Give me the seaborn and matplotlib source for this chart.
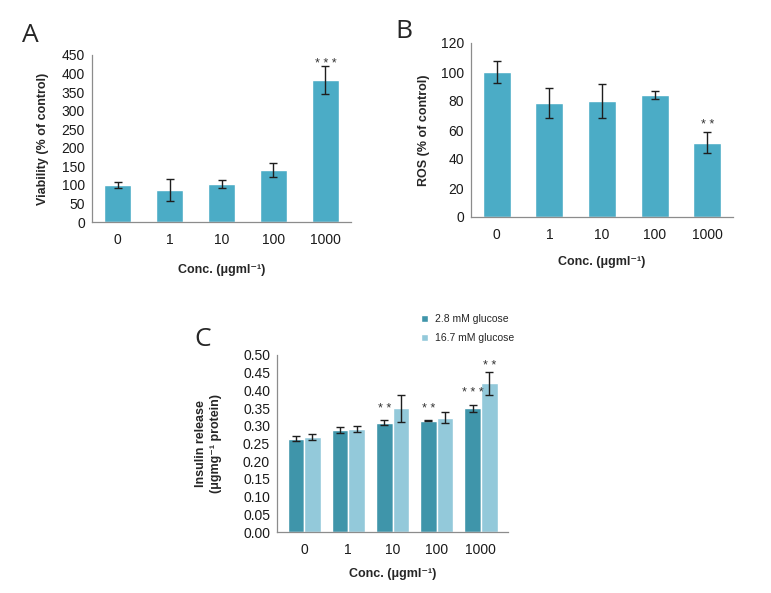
import numpy as np
import pandas as pd
import seaborn as sns
import matplotlib
matplotlib.use('Agg')
import matplotlib.pyplot as plt

sns.set_style("white")
plt.rcParams['font.family'] = ['Liberation Sans', 'DejaVu Sans']

# data
conc = ['0', '1', '10', '100', '1000']
viability = [99, 86, 102, 140, 382]
viability_err = [8, 29, 11, 20, 38]
viability_sig = ['', '', '', '', '***']

ros = [100, 78.7, 79.7, 83.9, 51.2]
ros_err = [7.7, 10.6, 11.7, 2.7, 7.4]
ros_sig = ['', '', '', '', '**']

glucose = ['2.8 mM glucose', '16.7 mM glucose']
insulin_low = [0.264, 0.288, 0.308, 0.314, 0.349]
insulin_low_err = [0.008, 0.009, 0.007, 0.001, 0.010]
insulin_low_sig = ['', '', '**', '**', '***']
insulin_high = [0.269, 0.291, 0.349, 0.323, 0.420]
insulin_high_err = [0.008, 0.009, 0.037, 0.016, 0.032]
insulin_high_sig = ['', '', '', '', '**']

bar_color = '#4BACC6'
c_colors = ['#3F95AA', '#93C9DA']
spine_color = '#8C8C8C'
err_color = '#1E1E1E'
xlabel = 'Conc. (\u03bcgml\u207b\u00b9)'

fig = plt.figure(figsize=(7.71, 5.93), dpi=100)
W, H = 771, 593


def add_axes(l, r, t, b):
    return fig.add_axes([l / W, 1 - b / H, (r - l) / W, (b - t) / H])


def style_axes(ax, ymax, step, fmt=None):
    ax.set_ylim(0, ymax)
    ax.set_yticks(np.arange(0, ymax + step / 2, step))
    if fmt:
        ax.yaxis.set_major_formatter(matplotlib.ticker.FormatStrFormatter(fmt))
    for s in ['top', 'right']:
        ax.spines[s].set_visible(False)
    for s in ['left', 'bottom']:
        ax.spines[s].set_color(spine_color)
        ax.spines[s].set_linewidth(0.9)
    ax.tick_params(axis='y', length=3, width=0.8, color=spine_color,
                   labelsize=10, labelcolor='#1a1a1a', pad=2)
    ax.tick_params(axis='x', length=0, labelsize=10, labelcolor='#1a1a1a', pad=8)


def add_errors(ax, container, vals, errs, sigs, off):
    xs = [p.get_x() + p.get_width() / 2 for p in container.patches]
    ax.errorbar(xs, vals, yerr=errs, fmt='none', ecolor=err_color,
                elinewidth=1.0, capsize=3, capthick=1.0)
    for x, v, e, s in zip(xs, vals, errs, sigs):
        if s:
            ax.annotate(' '.join(s), (x, v + e), xytext=(0, off),
                        textcoords='offset points', ha='center', va='bottom',
                        fontsize=9, color='#333333')


# panel A
axA = add_axes(92, 351, 55, 222)
dfA = pd.DataFrame({'conc': conc, 'val': viability})
sns.barplot(data=dfA, x='conc', y='val', color=bar_color, saturation=1,
            width=0.53, ax=axA)
add_errors(axA, axA.containers[0], viability, viability_err, viability_sig, -3)
style_axes(axA, 450, 50)
axA.set_ylabel('Viability (% of control)', fontsize=9, fontweight='bold', labelpad=9)
axA.set_xlabel(xlabel, fontsize=9, fontweight='bold', labelpad=12)

# panel B
axB = add_axes(471, 733, 43, 217)
dfB = pd.DataFrame({'conc': conc, 'val': ros})
sns.barplot(data=dfB, x='conc', y='val', color=bar_color, saturation=1,
            width=0.53, ax=axB)
add_errors(axB, axB.containers[0], ros, ros_err, ros_sig, 1)
style_axes(axB, 120, 20)
axB.set_ylabel('ROS (% of control)', fontsize=9, fontweight='bold', labelpad=8)
axB.set_xlabel(xlabel, fontsize=9, fontweight='bold', labelpad=10)

# panel C
axC = add_axes(277, 508, 355, 532)
dfC = pd.DataFrame({
    'conc': conc * 2,
    'glucose': [glucose[0]] * 5 + [glucose[1]] * 5,
    'val': insulin_low + insulin_high,
})
sns.barplot(data=dfC, x='conc', y='val', hue='glucose', palette=c_colors,
            saturation=1, width=0.75, gap=0, ax=axC)
add_errors(axC, axC.containers[0], insulin_low, insulin_low_err, insulin_low_sig, 4)
add_errors(axC, axC.containers[1], insulin_high, insulin_high_err, insulin_high_sig, 0)
style_axes(axC, 0.5, 0.05, '%.2f')
axC.set_ylabel('Insulin release\n(\u03bcgmg\u207b\u00b9 protein)', fontsize=9,
               fontweight='bold', labelpad=15, linespacing=1.3)
axC.set_xlabel(xlabel, fontsize=9, fontweight='bold', labelpad=8)
axC.legend(loc='upper left', bbox_to_anchor=(421 / W, 1 - 314 / H),
           bbox_transform=fig.transFigure, frameon=False, fontsize=7.5,
           handlelength=0.7, handleheight=0.7, handletextpad=0.6,
           labelspacing=0.85, borderaxespad=0, borderpad=0)

for lbl, x, y in [('A', 22, 42), ('B', 395, 38), ('C', 194, 346)]:
    fig.text(x / W, 1 - y / H, lbl, fontsize=19, family='Open Sans',
             ha='left', va='baseline')

fig.savefig('out.png', dpi=100)
